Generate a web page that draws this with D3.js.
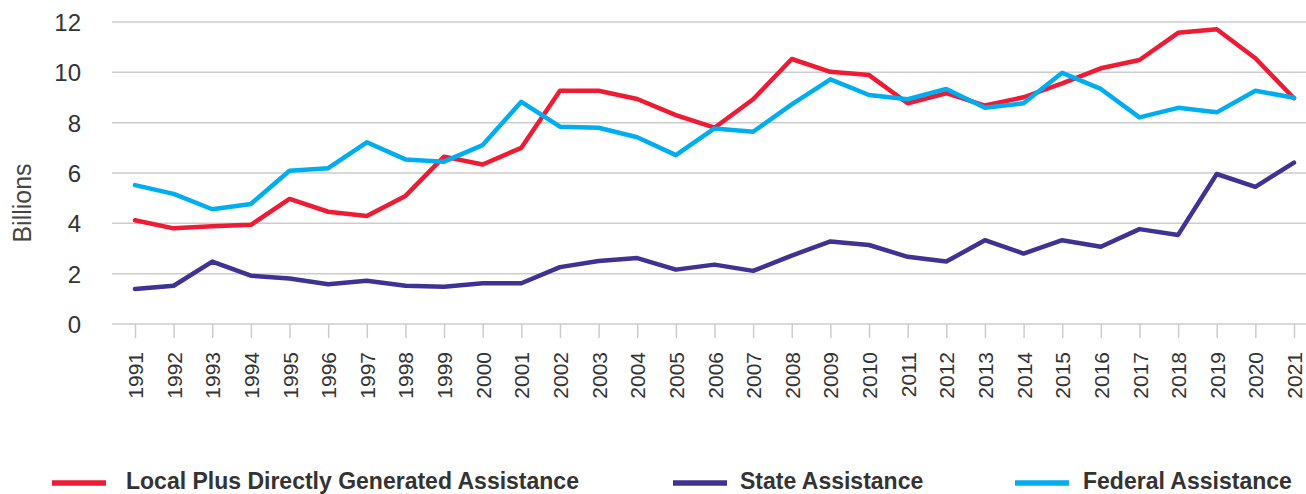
<!DOCTYPE html>
<html>
<head>
<meta charset="utf-8">
<script src="https://cdn.jsdelivr.net/npm/d3@7"></script>
<style>
  html, body { margin: 0; padding: 0; background: #fff; }
  svg { display: block; font-family: "Liberation Sans", Arial, Helvetica, sans-serif; }
</style>
</head>
<body>
<svg id="chart" width="1306" height="494"></svg>
<script>
const years = d3.range(1991, 2022).map(String);
const localPlus = [4.12, 3.80, 3.88, 3.94, 4.97, 4.46, 4.29, 5.09, 6.65, 6.34, 7.00, 9.27, 9.27, 8.94, 8.30, 7.80, 8.93, 10.53, 10.02, 9.89, 8.77, 9.17, 8.68, 9.01, 9.56, 10.16, 10.49, 11.57, 11.71, 10.56, 8.97];
const stateAssist = [1.39, 1.52, 2.48, 1.92, 1.81, 1.58, 1.72, 1.52, 1.48, 1.62, 1.62, 2.26, 2.50, 2.62, 2.16, 2.36, 2.11, 2.72, 3.28, 3.14, 2.67, 2.48, 3.33, 2.80, 3.33, 3.07, 3.77, 3.54, 5.96, 5.45, 6.41];
const federal = [5.52, 5.17, 4.56, 4.77, 6.09, 6.19, 7.22, 6.54, 6.45, 7.11, 8.83, 7.84, 7.80, 7.42, 6.71, 7.77, 7.64, 8.73, 9.72, 9.10, 8.93, 9.34, 8.59, 8.77, 9.98, 9.34, 8.21, 8.59, 8.41, 9.27, 8.99];
const yTicks = [0, 2, 4, 6, 8, 10, 12];
const seriesNames = ["Local Plus Directly Generated Assistance", "State Assistance", "Federal Assistance"];

const series = [
  { name: seriesNames[0], values: localPlus, color: "#ED1B34" },
  { name: seriesNames[1], values: stateAssist, color: "#3E3393" },
  { name: seriesNames[2], values: federal, color: "#00AEEF" }
];

const svg = d3.select("#chart");
const plotLeft = 112, plotRight = 1306;
const x = d3.scalePoint().domain(years).range([135, 1294]);
const y = d3.scaleLinear().domain([0, 12]).range([324, 22]);

// gridlines
svg.append("g").selectAll("line").data(yTicks).join("line")
  .attr("x1", plotLeft).attr("x2", plotRight)
  .attr("y1", d => y(d)).attr("y2", d => y(d))
  .attr("stroke", "#cccccc").attr("stroke-width", 1.5);

// y axis labels
const yAxis = d3.axisLeft(y).tickValues(yTicks).tickSize(0).tickPadding(0);
const yg = svg.append("g").attr("transform", `translate(81,0)`).call(yAxis);
yg.select(".domain").remove();
yg.selectAll("text").attr("font-size", 24).attr("fill", "#333").attr("font-family", "Liberation Sans, Arial, sans-serif").attr("dy", "0.36em");

// x axis
const xAxis = d3.axisBottom(x).tickSize(14).tickPadding(0);
const xg = svg.append("g").attr("transform", `translate(0,${y(0)})`).call(xAxis);
xg.select(".domain").remove();
xg.selectAll(".tick line").attr("stroke", "#cccccc").attr("stroke-width", 1.5);
xg.selectAll("text")
  .attr("font-size", 21).attr("fill", "#333").attr("font-family", "Liberation Sans, Arial, sans-serif")
  .attr("transform", "rotate(-90)")
  .attr("text-anchor", "end")
  .attr("x", -28).attr("y", 0).attr("dy", "0.36em");

// y title
svg.append("text")
  .attr("transform", "translate(31,203) rotate(-90)")
  .attr("text-anchor", "middle")
  .attr("font-size", 25).attr("fill", "#444")
  .text("Billions");

// lines
const line = d3.line().x((d, i) => x(years[i])).y(d => y(d));
svg.append("g").selectAll("path").data(series).join("path")
  .attr("d", d => line(d.values))
  .attr("fill", "none")
  .attr("stroke", d => d.color)
  .attr("stroke-width", 4.5)
  .attr("stroke-linejoin", "round")
  .attr("stroke-linecap", "round");

// legend
const legendPos = [{ lx: 52, tx: 126 }, { lx: 673, tx: 740 }, { lx: 1015, tx: 1083 }];
const lg = svg.append("g").selectAll("g").data(series).join("g");
lg.append("line")
  .attr("x1", (d, i) => legendPos[i].lx).attr("x2", (d, i) => legendPos[i].lx + 54)
  .attr("y1", 483).attr("y2", 483)
  .attr("stroke", d => d.color).attr("stroke-width", 5.5);
lg.append("text")
  .attr("x", (d, i) => legendPos[i].tx).attr("y", 488.5)
  .attr("font-size", 23).attr("font-weight", "bold").attr("fill", "#333")
  .text(d => d.name);
</script>
</body>
</html>
